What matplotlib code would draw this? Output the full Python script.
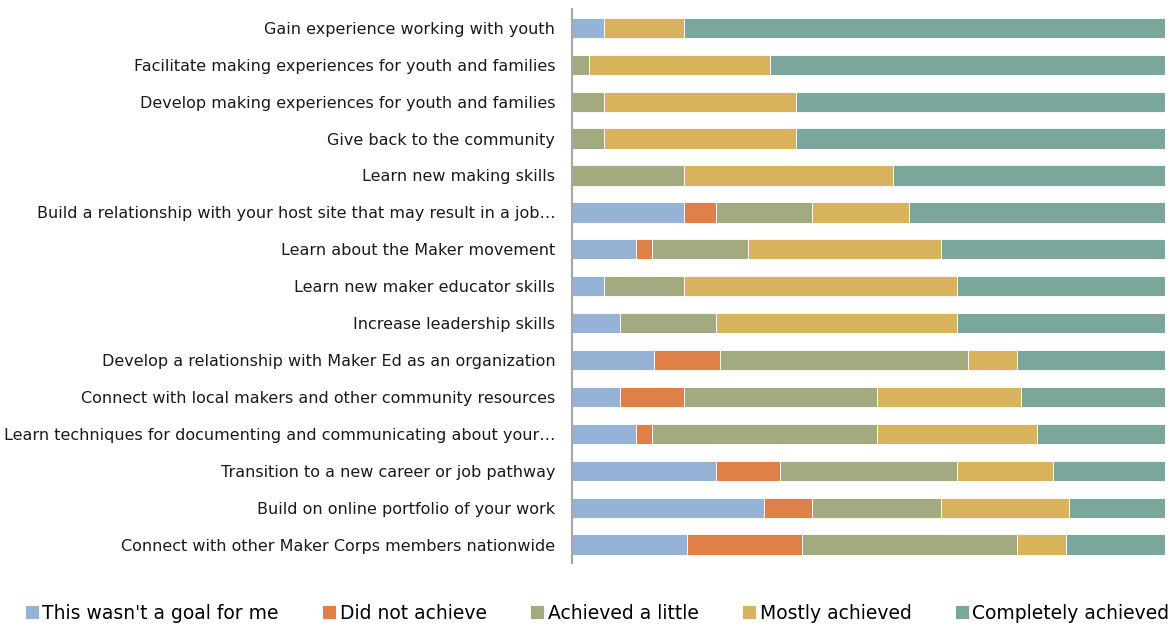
import matplotlib
matplotlib.use("Agg")
import matplotlib.pyplot as plt
import numpy as np

categories = [
    "Gain experience working with youth",
    "Facilitate making experiences for youth and families",
    "Develop making experiences for youth and families",
    "Give back to the community",
    "Learn new making skills",
    "Build a relationship with your host site that may result in a job\u2026",
    "Learn about the Maker movement",
    "Learn new maker educator skills",
    "Increase leadership skills",
    "Develop a relationship with Maker Ed as an organization",
    "Connect with local makers and other community resources",
    "Learn techniques for documenting and communicating about your\u2026",
    "Transition to a new career or job pathway",
    "Build on online portfolio of your work",
    "Connect with other Maker Corps members nationwide",
]

series_names = ["This wasn't a goal for me", "Did not achieve", "Achieved a little",
                "Mostly achieved", "Completely achieved"]

not_goal =   [5.4, 0.0, 0.0, 0.0, 0.0, 18.9, 10.8, 5.4, 8.1, 13.9, 8.1, 10.8, 24.3, 32.4, 19.4]
not_achv =   [0.0, 0.0, 0.0, 0.0, 0.0, 5.4, 2.7, 0.0, 0.0, 11.1, 10.8, 2.7, 10.8, 8.1, 19.4]
a_little =   [0.0, 2.8, 5.4, 5.4, 18.9, 16.2, 16.2, 13.5, 16.2, 41.7, 32.4, 37.8, 29.7, 21.6, 36.1]
mostly =     [13.5, 30.6, 32.4, 32.4, 35.1, 16.2, 32.4, 45.9, 40.5, 8.3, 24.3, 27.0, 16.2, 21.6, 8.3]
completely = [81.1, 66.7, 62.2, 62.2, 45.9, 43.2, 37.8, 35.1, 35.1, 25.0, 24.3, 21.6, 18.9, 16.2, 16.7]

colors = ["#95B3D7", "#DF8048", "#A4AA7F", "#D9B25E", "#7BA69B"]

data = np.array([not_goal, not_achv, a_little, mostly, completely])
data = data / data.sum(axis=0) * 100

fig = plt.figure(figsize=(11.73, 6.27), dpi=100)
ax = fig.add_axes([0.4876, 0.102, 0.5056, 0.883])

y = np.arange(len(categories))
left = np.zeros(len(categories))
for name, vals, c in zip(series_names, data, colors):
    ax.barh(y, vals, left=left, height=0.55, color=c, label=name,
            edgecolor="white", linewidth=0.6)
    left += vals

ax.set_xlim(0, 100)
ax.set_ylim(len(categories) - 0.5, -0.5)
ax.set_yticks(y)
ax.set_yticklabels(categories, fontsize=11.5, family="DejaVu Sans", color="#1a1a1a")
ax.tick_params(axis="y", length=0, pad=12)
ax.set_xticks([])
for s in ["top", "right", "bottom"]:
    ax.spines[s].set_visible(False)
ax.spines["left"].set_color("#A6A6A6")
ax.spines["left"].set_linewidth(1.5)

handles, labels = ax.get_legend_handles_labels()
fig.legend(handles, labels, loc="center", bbox_to_anchor=(0.509, 0.022), ncol=5,
           frameon=False, fontsize=13.5, handlelength=0.75, handleheight=0.75,
           handletextpad=0.2, columnspacing=2.3)

fig.savefig("out.png", dpi=100)
